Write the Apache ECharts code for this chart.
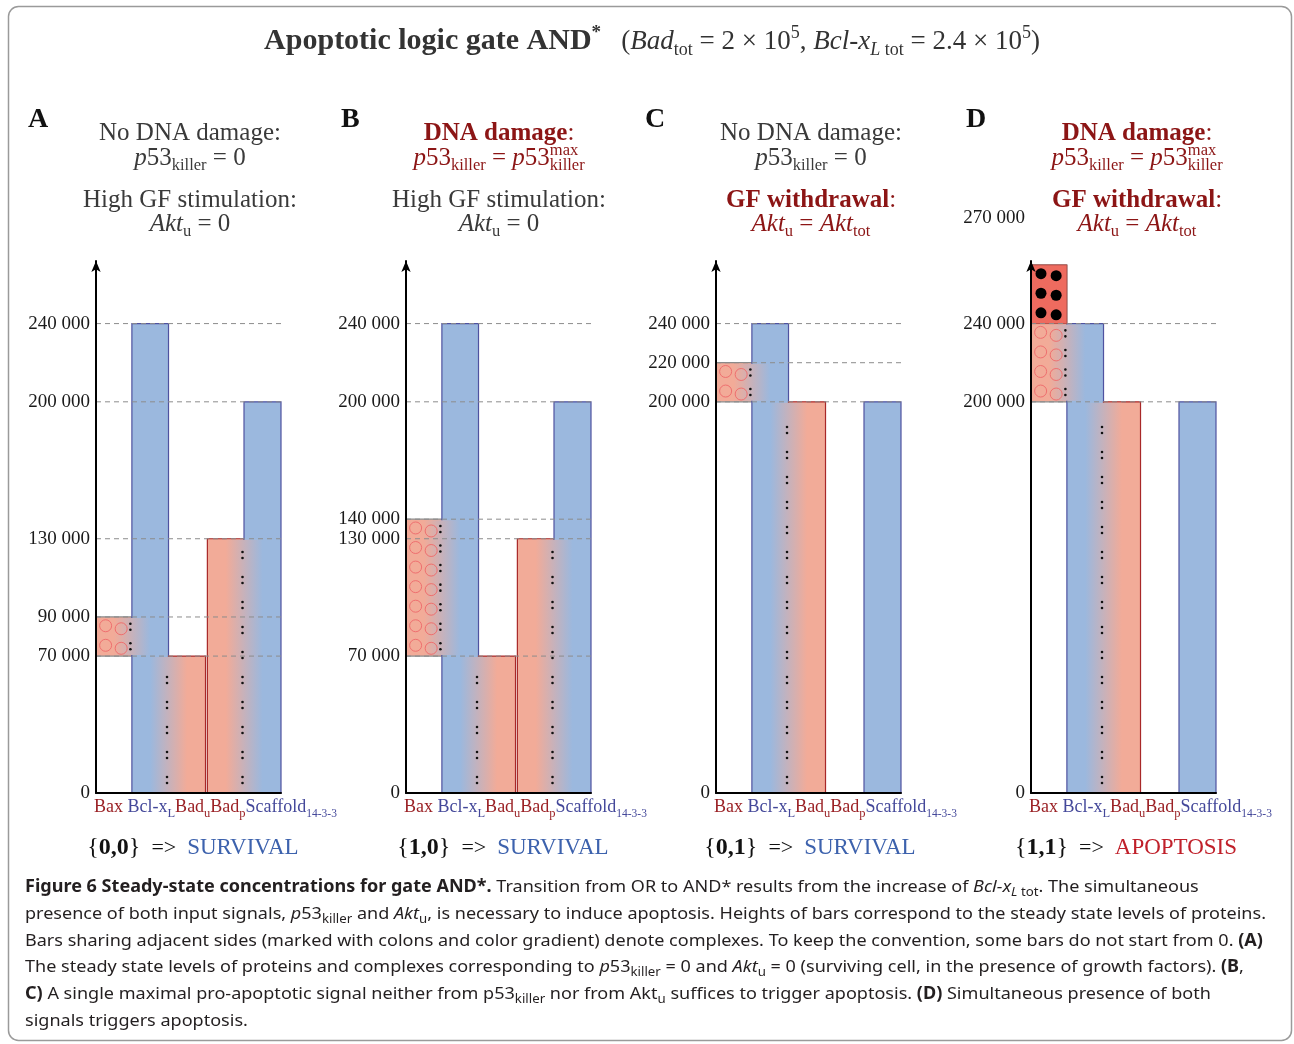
<!DOCTYPE html>
<html><head><meta charset="utf-8">
<script src="https://cdn.jsdelivr.net/npm/echarts@6/dist/echarts.min.js"></script>
<style>html,body{margin:0;padding:0;background:#fff}#c{width:1294px;height:1044px}</style>
</head><body><div id="c"></div>
<script>
// ---------------- data ----------------
const proteinNames = [['Bax',''],['Bcl-x','L'],['Bad','u'],['Bad','p'],['Scaffold','14-3-3']];
const panelIds = ['A','B','C','D'];
// protein bars: [protein index, from, to]
const barsA = [[0,70000,90000],[1,0,240000],[2,0,70000],[3,0,130000],[4,0,200000]];
const barsB = [[0,70000,140000],[1,0,240000],[2,0,70000],[3,0,130000],[4,0,200000]];
const barsC = [[0,200000,220000],[1,0,240000],[2,0,200000],[4,0,200000]];
const barsD = [[0,200000,270000],[1,0,240000],[2,0,200000],[4,0,200000]];
// complexes between protein i and i+1: [left protein index, from, to]
const complexA = [[0,70000,90000],[1,0,70000],[3,0,130000]];
const complexB = [[0,70000,140000],[1,0,70000],[3,0,130000]];
const complexC = [[0,200000,220000],[1,0,200000]];
const complexD = [[0,200000,240000],[1,0,200000]];
// free (active) Bax: [from, to]
const freeBaxA = [], freeBaxB = [], freeBaxC = [];
const freeBaxD = [[240000,270000]];
// y tick labels
const ticksA = [0,70000,90000,130000,200000,240000];
const ticksB = [0,70000,130000,140000,200000,240000];
const ticksC = [0,200000,220000,240000];
const ticksD = [0,200000,240000,270000];
// dashed guide levels
const guidesA = [70000,90000,130000,200000,240000];
const guidesB = [70000,130000,140000,200000,240000];
const guidesC = [200000,220000,240000];
const guidesD = [200000,240000];
// logic inputs and outcomes
const inputs = [['0','0'],['1','0'],['0','1'],['1','1']];
const outcomes = ['SURVIVAL','SURVIVAL','SURVIVAL','APOPTOSIS'];

// ---------------- style / layout ----------------
const SERIF = '"Liberation Serif","DejaVu Serif",serif';
const SANS = '"Noto Sans","Open Sans",sans-serif';
const BLUE = '#9bb8de', SALMON = '#f2ab98', FREEBAX = '#ee6b5f';
const BLUE_EDGE = '#4f52a0', RED_EDGE = '#a82828', GRAY_EDGE = '#8a8a8a';
const GRAY = '#3a3a3a', DRED = '#8c1515', LBL_RED = '#9b2226', LBL_BLUE = '#44489a';
const SLOT = [[0,0.97],[0.97,1.96],[1.96,2.96],[3.01,4.0],[4.0,5.0]];
const gridLefts = [96,406,716,1031];
const headCenters = [190,499,811,1137];
const resultCenters = [193,503,810,1126];
const letterX = [28,341,645,966];
const isBlue = p => p === 1 || p === 4;
const colorOf = p => isBlue(p) ? BLUE : SALMON;
const edgeOf = p => p === 0 ? GRAY_EDGE : (isBlue(p) ? BLUE_EDGE : RED_EDGE);

const mctx = document.createElement('canvas').getContext('2d');
function fontStr(r){ return (r.st||'normal')+' '+(r.w||'normal')+' '+r.s+'px '+(r.fam||SERIF); }
function layoutRuns(list, x, base, align){
  const ws = list.map(r => { mctx.font = fontStr(r); return mctx.measureText(r.t).width; });
  let tot = 0; list.forEach((r,i)=>{ if(!r.ov) tot += ws[i]; });
  let cx = align==='center' ? x - tot/2 : (align==='right' ? x - tot : x);
  return list.map((r,i)=>{
    const el = {type:'text', x:cx, y: base + (r.dy||0) - 0.3*r.s, z:20,
      style:{text:r.t, font:fontStr(r), fill:r.c, textAlign:'left', textVerticalAlign:'middle', align:'left', verticalAlign:'middle'}};
    if(!r.ov) cx += ws[i];
    return el;
  });
}
function runsWidth(list){ let w=0; list.forEach(r=>{ mctx.font=fontStr(r); if(!r.ov) w+=mctx.measureText(r.t).width; }); return w; }

// heading line builders
const H = 25, SUB = 16.5;
function lineNoDamage(){ return [{t:'No DNA damage:',s:H,c:GRAY}]; }
function lineP53zero(){ return [{t:'p',s:H,st:'italic',c:GRAY},{t:'53',s:H,c:GRAY},{t:'killer',s:SUB,c:GRAY,dy:5},{t:' = 0',s:H,c:GRAY}]; }
function lineDamage(){ return [{t:'DNA damage',s:H,w:'bold',c:DRED},{t:':',s:H,c:DRED}]; }
function lineP53max(){ return [{t:'p',s:H,st:'italic',c:DRED},{t:'53',s:H,c:DRED},{t:'killer',s:SUB,c:DRED,dy:5},{t:' = ',s:H,c:DRED},{t:'p',s:H,st:'italic',c:DRED},{t:'53',s:H,c:DRED},{t:'max',s:SUB,c:DRED,dy:-10,ov:true},{t:'killer',s:SUB,c:DRED,dy:5}]; }
function lineHighGF(){ return [{t:'High GF stimulation:',s:H,c:GRAY}]; }
function lineAktZero(){ return [{t:'Akt',s:H,st:'italic',c:GRAY},{t:'u',s:SUB,c:GRAY,dy:5},{t:' = 0',s:H,c:GRAY}]; }
function lineWithdraw(){ return [{t:'GF withdrawal',s:H,w:'bold',c:DRED},{t:':',s:H,c:DRED}]; }
function lineAktTot(){ return [{t:'Akt',s:H,st:'italic',c:DRED},{t:'u',s:SUB,c:DRED,dy:5},{t:' = ',s:H,c:DRED},{t:'Akt',s:H,st:'italic',c:DRED},{t:'tot',s:SUB,c:DRED,dy:5}]; }
const headings = [
  [lineNoDamage(), lineP53zero(), lineHighGF(), lineAktZero()],
  [lineDamage(), lineP53max(), lineHighGF(), lineAktZero()],
  [lineNoDamage(), lineP53zero(), lineWithdraw(), lineAktTot()],
  [lineDamage(), lineP53max(), lineWithdraw(), lineAktTot()]
];
const headBase = [141,166,208,232];

// ---------------- panels built from arrays ----------------
const panels = [
  {bars:barsA, cx:complexA, free:freeBaxA, ticks:ticksA, guides:guidesA},
  {bars:barsB, cx:complexB, free:freeBaxB, ticks:ticksB, guides:guidesB},
  {bars:barsC, cx:complexC, free:freeBaxC, ticks:ticksC, guides:guidesC},
  {bars:barsD, cx:complexD, free:freeBaxD, ticks:ticksD, guides:guidesD}
];

function fmtTick(v){ return v === 0 ? '0' : (Math.round(v/1000)) + ' 000'; }

function renderBar(params, api){
  const p = api.value(0), a = api.value(1), b = api.value(2);
  const tl = api.coord([SLOT[p][0], b]), br = api.coord([SLOT[p][1], a]);
  return {type:'rect', shape:{x:tl[0], y:tl[1], width:br[0]-tl[0], height:br[1]-tl[1]},
    style:{fill:colorOf(p), stroke:edgeOf(p), lineWidth:1.2}};
}
function colon(x, y){
  return [{type:'circle', shape:{cx:x, cy:y-3, r:1.3}, style:{fill:'#111'}},
          {type:'circle', shape:{cx:x, cy:y+3, r:1.3}, style:{fill:'#111'}}];
}
function renderComplex(params, api){
  const p = api.value(0), a = api.value(1), b = api.value(2);
  const L = SLOT[p], R = SLOT[p+1];
  const cl = (L[0]+L[1])/2, crr = (R[0]+R[1])/2;
  const tl = api.coord([cl, b]), br = api.coord([crr, a]);
  const ch = [{type:'rect', shape:{x:tl[0], y:tl[1]+1, width:br[0]-tl[0], height:br[1]-tl[1]-2},
    style:{fill:new echarts.graphic.LinearGradient(0,0,1,0,[{offset:0,color:colorOf(p)},{offset:1,color:colorOf(p+1)}])}}];
  const bx = api.coord([L[1], 0])[0] - 1.5;
  if(p === 0){
    const xl = api.coord([0.26,0])[0], xr = api.coord([0.68,0])[0];
    for(let v = a + 5000; v < b; v += 10000){
      const y = api.coord([0, v])[1];
      ch.push({type:'circle', shape:{cx:xl, cy:y-1, r:6}, style:{fill:'none', stroke:'#ef6f6f', lineWidth:1}});
      ch.push({type:'circle', shape:{cx:xr, cy:y+2, r:6}, style:{fill:'none', stroke:'#ef6f6f', lineWidth:1}});
      ch.push(...colon(bx, y));
    }
  } else {
    for(let y = br[1] - 13; y > tl[1] + 10; y -= 25) ch.push(...colon(bx, y));
  }
  return {type:'group', children:ch};
}
function renderFree(params, api){
  const a = api.value(1), b = api.value(2);
  const tl = api.coord([SLOT[0][0], b]), br = api.coord([SLOT[0][1], a]);
  const ch = [{type:'rect', shape:{x:tl[0], y:tl[1], width:br[0]-tl[0], height:br[1]-tl[1]},
    style:{fill:FREEBAX, stroke:'#b5504a', lineWidth:1}}];
  const xl = api.coord([0.27,0])[0], xr = api.coord([0.68,0])[0];
  for(let v = a + 5000; v < b; v += 10000){
    const y = api.coord([0, v])[1];
    ch.push({type:'circle', shape:{cx:xl, cy:y-1, r:5.5}, style:{fill:'#000'}});
    ch.push({type:'circle', shape:{cx:xr, cy:y+1, r:5.5}, style:{fill:'#000'}});
  }
  return {type:'group', children:ch};
}
function renderGuide(params, api){
  const v = api.value(1);
  const p0 = api.coord([0, v]), p1 = api.coord([5, v]);
  return {type:'line', shape:{x1:p0[0], y1:p0[1], x2:p1[0], y2:p1[1]},
    style:{stroke:'#8c8c8c', lineWidth:1, lineDash:[5,4]}};
}
function renderCatLabels(params, api){
  const p0 = api.coord([0, 0]);
  const list = [];
  proteinNames.forEach((nm, i) => {
    const c = isBlue(i) ? LBL_BLUE : LBL_RED;
    list.push({t:nm[0], s:18, c:c});
    if(nm[1]) list.push({t:nm[1], s: i===4 ? 11.5 : 12.5, c:c, dy:4});
    if(i === 0) list.push({t:' ', s:18, c:c});
  });
  return {type:'group', children: layoutRuns(list, p0[0]-2, p0[1]+20, 'left')};
}

// ---------------- option ----------------
const grid = [], xAxis = [], yAxis = [], series = [];
panels.forEach((pn, i) => {
  grid.push({left:gridLefts[i], top:261, width:185, height:532});
  xAxis.push({type:'value', gridIndex:i, min:0, max:5, z:10,
    axisLine:{show:true, onZero:false, lineStyle:{color:'#000', width:2}},
    axisTick:{show:false}, axisLabel:{show:false}, splitLine:{show:false}});
  yAxis.push({type:'value', gridIndex:i, min:0, max:272000, interval:10000, z:10,
    axisLine:{show:true, symbol:['none','arrow'], symbolSize:[7,11], lineStyle:{color:'#000', width:2}},
    axisTick:{show:false}, splitLine:{show:false},
    axisLabel:{fontFamily:SERIF, fontSize:19, color:'#1a1a1a', margin:6,
      formatter: v => {
        if(pn.ticks.indexOf(v) < 0) return '';
        if(i === 3 && v === 270000) return '{hi|' + fmtTick(v) + '}';
        return fmtTick(v);
      },
      rich:{hi:{fontFamily:SERIF, fontSize:19, color:'#1a1a1a', padding:[0,0,94,0]}}}});
  const common = {type:'custom', xAxisIndex:i, yAxisIndex:i, silent:true, animation:false, clip:false};
  series.push(Object.assign({}, common, {name:'bars'+i, z:2, data:pn.bars, renderItem:renderBar}));
  series.push(Object.assign({}, common, {name:'complex'+i, z:3, data:pn.cx, renderItem:renderComplex}));
  series.push(Object.assign({}, common, {name:'free'+i, z:3, data:pn.free.map(d=>[0,d[0],d[1]]), renderItem:renderFree}));
  series.push(Object.assign({}, common, {name:'guides'+i, z:4, data:pn.guides.map(v=>[0,v]), renderItem:renderGuide}));
  series.push(Object.assign({}, common, {name:'labels'+i, z:5, data:[[0,0]], renderItem:renderCatLabels}));
});

// ---------------- graphic texts ----------------
const gfx = [];
gfx.push({type:'rect', shape:{x:8.5, y:6.5, width:1283, height:1034, r:10}, style:{fill:'none', stroke:'#9a9a9a', lineWidth:1.5}, z:1});
// title
const TC = '#333';
const titleRuns = [
  {t:'Apoptotic logic gate AND', s:30, w:'bold', c:TC},
  {t:'*', s:19, w:'bold', c:TC, dy:-11},
  {t:'   (', s:27, c:TC},
  {t:'Bad', s:27, st:'italic', c:TC},
  {t:'tot', s:18, c:TC, dy:6},
  {t:' = 2 × 10', s:27, c:TC},
  {t:'5', s:18, c:TC, dy:-11},
  {t:', ', s:27, c:TC},
  {t:'Bcl-x', s:27, st:'italic', c:TC},
  {t:'L', s:18, st:'italic', c:TC, dy:6},
  {t:' tot', s:18, c:TC, dy:6},
  {t:' = 2.4 × 10', s:27, c:TC},
  {t:'5', s:18, c:TC, dy:-11},
  {t:')', s:27, c:TC}
];
gfx.push(...layoutRuns(titleRuns, 652, 50, 'center'));
// panel letters, headings, results
panelIds.forEach((id, i) => {
  gfx.push(...layoutRuns([{t:id, s:28, w:'bold', c:'#111'}], letterX[i], 128, 'left'));
  headings[i].forEach((ln, k) => gfx.push(...layoutRuns(ln, headCenters[i], headBase[k], 'center')));
  const oc = outcomes[i] === 'SURVIVAL' ? '#3d62ad' : '#c0202a';
  const res = [
    {t:'{', s:24, c:'#111'}, {t:inputs[i][0], s:24, w:'bold', c:'#111'}, {t:',', s:24, w:'bold', c:'#111'},
    {t:inputs[i][1], s:24, w:'bold', c:'#111'}, {t:'}', s:24, c:'#111'},
    {t:'  =>  ', s:22, c:'#111'}, {t:outcomes[i], s:23, c:oc}
  ];
  gfx.push(...layoutRuns(res, resultCenters[i], 855, 'center'));
});
// caption
const CS = 17, CSUB = 12.5, CC = '#231f20';
function cap(t, k){
  const r = {t:t, s:CS, fam:SANS, c:CC};
  if(k === 'b') r.w = 'bold';
  if(k === 'i') r.st = 'italic';
  if(k === 's' || k === 'si'){ r.s = CSUB; r.dy = 4; if(k === 'si') r.st = 'italic'; }
  return r;
}
const capLines = [
  [['Figure 6 Steady-state concentrations for gate AND*.','b'],[' Transition from OR to AND* results from the increase of ','n'],['Bcl-x','i'],['L','si'],[' tot','s'],['. The simultaneous','n']],
  [['presence of both input signals, ','n'],['p','i'],['53','n'],['killer','s'],[' and ','n'],['Akt','i'],['u','s'],[', is necessary to induce apoptosis. Heights of bars correspond to the steady state levels of proteins.','n']],
  [['Bars sharing adjacent sides (marked with colons and color gradient) denote complexes. To keep the convention, some bars do not start from 0. ','n'],['(A)','b']],
  [['The steady state levels of proteins and complexes corresponding to ','n'],['p','i'],['53','n'],['killer','s'],[' = 0 and ','n'],['Akt','i'],['u','s'],[' = 0 (surviving cell, in the presence of growth factors). ','n'],['(B','b'],[',','n']],
  [['C)','b'],[' A single maximal pro-apoptotic signal neither from p53','n'],['killer','s'],[' nor from Akt','n'],['u','s'],[' suffices to trigger apoptosis. ','n'],['(D)','b'],[' Simultaneous presence of both','n']],
  [['signals triggers apoptosis.','n']]
].map(l => l.map(([t,k]) => cap(t,k)));
const capScale = 1241 / runsWidth(capLines[1]);
const capBase = [892,919,946,972,999,1026];
const capChildren = [];
capLines.forEach((l, k) => capChildren.push(...layoutRuns(l, 0, capBase[k], 'left')));
gfx.push({type:'group', x:25, y:0, scaleX:capScale, scaleY:1, children:capChildren});

const chart = echarts.init(document.getElementById('c'), null, {renderer:'canvas'});
chart.setOption({animation:false, backgroundColor:'#fff', grid, xAxis, yAxis, series, graphic:{elements:gfx}});
</script></body></html>
